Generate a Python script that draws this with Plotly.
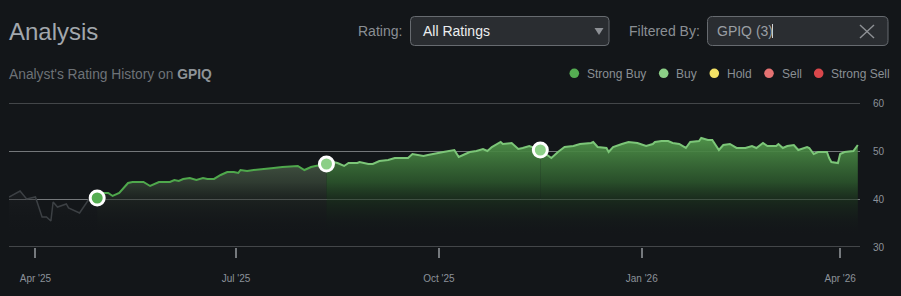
import plotly.graph_objects as go

# ---------------- data ----------------
price_dates = [
    "2025-03-20", "2025-03-25", "2025-03-28", "2025-04-01", "2025-04-04", "2025-04-06", "2025-04-08",
    "2025-04-09", "2025-04-11", "2025-04-15", "2025-04-16", "2025-04-21", "2025-04-25", "2025-04-29",
    "2025-04-30", "2025-05-04", "2025-05-06", "2025-05-09", "2025-05-13", "2025-05-15", "2025-05-20",
    "2025-05-23", "2025-05-27", "2025-05-29", "2025-06-01", "2025-06-03", "2025-06-05", "2025-06-07",
    "2025-06-10", "2025-06-13", "2025-06-16", "2025-06-18", "2025-06-21", "2025-06-24", "2025-06-27",
    "2025-06-30", "2025-07-02", "2025-07-03", "2025-07-06", "2025-07-09", "2025-07-15", "2025-07-18",
    "2025-07-22", "2025-07-26", "2025-07-29", "2025-08-01", "2025-08-04", "2025-08-06", "2025-08-08",
    "2025-08-11",
    "2025-08-14", "2025-08-16", "2025-08-19", "2025-08-21", "2025-08-25", "2025-08-26", "2025-08-30",
    "2025-09-01", "2025-09-04", "2025-09-08", "2025-09-11", "2025-09-15", "2025-09-17", "2025-09-19",
    "2025-09-22", "2025-09-24", "2025-09-26", "2025-09-29", "2025-10-03", "2025-10-08", "2025-10-10",
    "2025-10-13", "2025-10-15", "2025-10-18", "2025-10-21", "2025-10-23", "2025-10-25", "2025-10-29",
    "2025-10-30", "2025-11-03", "2025-11-06", "2025-11-08", "2025-11-11", "2025-11-16",
    "2025-11-21", "2025-11-24", "2025-11-27", "2025-12-01", "2025-12-04", "2025-12-09", "2025-12-10",
    "2025-12-12", "2025-12-16", "2025-12-17", "2025-12-19", "2025-12-23", "2025-12-26", "2025-12-30",
    "2026-01-03", "2026-01-06", "2026-01-07", "2026-01-10", "2026-01-13", "2026-01-15", "2026-01-18",
    "2026-01-21", "2026-01-23", "2026-01-27", "2026-01-28", "2026-01-31", "2026-02-02", "2026-02-05",
    "2026-02-07", "2026-02-10", "2026-02-13", "2026-02-17", "2026-02-20", "2026-02-22", "2026-02-25",
    "2026-02-27", "2026-03-03", "2026-03-04", "2026-03-06", "2026-03-08", "2026-03-11", "2026-03-13",
    "2026-03-17", "2026-03-18", "2026-03-20", "2026-03-22", "2026-03-24", "2026-03-26", "2026-03-27",
    "2026-03-28", "2026-03-31", "2026-04-01", "2026-04-03", "2026-04-07", "2026-04-09",
]
price_values = [
    40.42, 41.67, 40.0, 40.42, 36.25, 36.25, 35.42, 39.38, 38.33, 38.96, 38.13, 37.08, 39.79, 40.21,
    41.25, 41.25, 40.63, 41.25, 43.33, 43.54, 43.54, 42.71, 43.54, 43.54,
    43.54, 43.96, 43.75, 44.17, 44.38, 43.96, 44.38, 44.17, 44.17, 45.0, 45.63, 45.63,
    45.42, 46.04, 45.83, 46.04, 46.25, 46.46, 46.67, 46.88, 46.88,
    46.04, 46.67, 46.88, 47.08, 47.29,
    47.71, 47.5, 46.88, 47.5, 47.5, 47.71, 47.29,
    47.29, 47.92, 48.13, 48.54, 48.54, 48.54, 49.38, 49.17, 48.96, 49.17, 49.38,
    49.79, 50.21, 48.75, 49.38, 49.79, 50.0, 50.42, 50.0, 50.83, 51.88, 51.46,
    51.67, 50.42, 50.63, 51.04, 50.21,
    48.54, 49.79, 50.83,
    51.04, 51.46, 51.67, 51.88, 50.83, 50.63, 49.79, 50.83, 51.46, 51.88, 51.67,
    51.04, 51.46, 51.88, 52.08, 52.08, 51.67, 51.46, 50.63, 51.88, 52.08, 52.71, 52.29,
    52.29, 50.21, 51.25, 51.46, 50.63, 50.63, 51.04, 50.63, 51.67, 51.04,
    51.04, 51.46, 50.63, 51.04, 51.25, 50.21, 50.83, 50.63, 49.38, 49.79, 49.79, 49.79, 48.54, 47.71, 47.5,
    49.38, 49.79, 50.0, 51.25,
]

rating_dates = ["2025-04-29", "2025-08-11", "2025-11-16"]
rating_types = ["Strong Buy", "Buy", "Buy"]

legend_labels = ["Strong Buy", "Buy", "Hold", "Sell", "Strong Sell"]
legend_colors = ["#55ad52", "#8ccf87", "#f2e166", "#e57272", "#d9474b"]

x_tick_dates = ["2025-04-01", "2025-07-01", "2025-10-01", "2026-01-01", "2026-04-01"]
x_tick_labels = ["Apr '25", "Jul '25", "Oct '25", "Jan '26", "Apr '26"]
y_ticks = [30, 40, 50, 60]

# ---------------- layout geometry ----------------
W, H = 901, 296
ML, MR, MT, MB = 9, 41, 103, 49
PW, PH = W - ML - MR, H - MT - MB
BG = "#131619"
GRID = "#74777a"
FONT = "Arial, Liberation Sans, sans-serif"


def px(x):
    return (x - ML) / PW


def py(y):
    return (H - MB - y) / PH


def rounded_rect(x0, y0, x1, y1, r):
    X0, X1, Y0, Y1 = px(x0), px(x1), py(y0), py(y1)
    rx, ry = r / PW, r / PH
    return (f"M {X0+rx},{Y0} L {X1-rx},{Y0} Q {X1},{Y0} {X1},{Y0-ry} "
            f"L {X1},{Y1+ry} Q {X1},{Y1} {X1-rx},{Y1} L {X0+rx},{Y1} "
            f"Q {X0},{Y1} {X0},{Y1+ry} L {X0},{Y0-ry} Q {X0},{Y0} {X0+rx},{Y0} Z")


fig = go.Figure()

color_of = dict(zip(legend_labels, legend_colors))
idx = [price_dates.index(d) for d in rating_dates]
bounds = [0] + idx + [len(price_dates) - 1]

seg_styles = [
    dict(line="#3c4044", width=1.5, top="rgba(52,56,60,0.6)", mid="rgba(38,41,44,0.5)", low="rgba(28,31,34,0.4)"),
    dict(line="#4fa84c", width=2, top="rgba(96,120,92,0.9)", mid="rgba(60,76,60,0.7)", low="rgba(34,42,36,0.5)"),
    dict(line="#7cc678", width=2, top="rgba(80,148,74,0.97)", mid="rgba(46,92,46,0.8)", low="rgba(28,52,30,0.6)"),
    dict(line="#7cc678", width=2, top="rgba(80,148,74,0.97)", mid="rgba(46,92,46,0.8)", low="rgba(28,52,30,0.6)"),
]

for k in range(len(bounds) - 1):
    a, b = bounds[k], bounds[k + 1]
    st = seg_styles[k]
    fig.add_trace(go.Scatter(
        x=price_dates[a:b + 1], y=price_values[a:b + 1], mode="lines",
        line=dict(color=st["line"], width=st["width"]),
        fill="tozeroy",
        fillgradient=dict(type="vertical", start=30, stop=52.5,
                          colorscale=[[0, "rgba(19,22,25,0)"], [0.1, "rgba(19,22,25,0)"],
                                      [0.42, st["low"]], [0.6, st["mid"]], [1, st["top"]]]),
        hoverinfo="skip", showlegend=False,
    ))

fig.add_trace(go.Scatter(
    x=rating_dates, y=[price_values[i] for i in idx], mode="markers",
    marker=dict(size=14, color=[color_of[t] for t in rating_types],
                line=dict(color="white", width=3)),
    text=rating_types, hoverinfo="text", showlegend=False,
))

shapes = []
annotations = []

# edge grid lines at 30 and 60 (plotly omits grid lines on range edges)
for yv in (y_ticks[0], y_ticks[-1]):
    shapes.append(dict(type="line", xref="paper", yref="y", x0=0, x1=1, y0=yv, y1=yv,
                       line=dict(color=GRID, width=1.2), layer="below"))


def text(s, x, y, size, color, anchor="left"):
    annotations.append(dict(text=s, x=px(x), y=py(y), xref="paper", yref="paper",
                            xanchor=anchor, yanchor="middle", showarrow=False,
                            font=dict(family=FONT, size=size, color=color), borderpad=0))


text("Analysis", 8, 31, 24, "#a2a7ac")
text("Analyst's Rating History on <b style='color:#8e9398'>GPIQ</b>", 8, 74, 13.8, "#6d7277")
text("Rating:", 357, 31, 14, "#8a8f94")
text("Filtered By:", 628, 31, 14, "#8a8f94")

shapes.append(dict(type="path", path=rounded_rect(410.5, 16.5, 609, 45.5, 4), xref="paper", yref="paper",
                   line=dict(color="#676b70", width=1), fillcolor="#2a2d31", layer="above"))
text("All Ratings", 422, 31, 14, "#eceeef")
shapes.append(dict(type="path",
                   path=f"M {px(594.5)},{py(28)} L {px(603.5)},{py(28)} L {px(599)},{py(35)} Z",
                   xref="paper", yref="paper", line=dict(width=0), fillcolor="#8d9095", layer="above"))

shapes.append(dict(type="path", path=rounded_rect(707.5, 16.5, 888, 45.5, 5), xref="paper", yref="paper",
                   line=dict(color="#676b70", width=1), fillcolor="#2a2d31", layer="above"))
text("GPIQ (3)", 716, 31, 14, "#9a9fa4")
shapes.append(dict(type="line", x0=px(772.5), x1=px(772.5), y0=py(24), y1=py(38), xref="paper", yref="paper",
                   line=dict(color="#d0d2d4", width=1), layer="above"))
for (xa, ya, xb, yb) in [(860, 25, 874, 38), (860, 38, 874, 25)]:
    shapes.append(dict(type="line", x0=px(xa), y0=py(ya), x1=px(xb), y1=py(yb), xref="paper", yref="paper",
                       line=dict(color="#8e9195", width=1.4), layer="above"))

legend_x = [574.3, 663.7, 714.3, 769, 818.7]
for cx, lab, col in zip(legend_x, legend_labels, legend_colors):
    r = 4.8
    shapes.append(dict(type="circle", x0=px(cx - r), x1=px(cx + r), y0=py(73.3 - r), y1=py(73.3 + r),
                       xref="paper", yref="paper", line=dict(width=0), fillcolor=col, layer="above"))
    text(lab, cx + 11.5, 73.5, 12, "#8a8f94")

fig.update_layout(
    width=W, height=H, margin=dict(l=ML, r=MR, t=MT, b=MB),
    paper_bgcolor=BG, plot_bgcolor=BG,
    font=dict(family=FONT, color="#8c929a"),
    shapes=shapes, annotations=annotations,
    xaxis=dict(type="date", range=["2025-03-20", "2026-04-10"], showgrid=False, zeroline=False,
               showline=False, tickvals=x_tick_dates, ticktext=x_tick_labels,
               ticks="outside", ticklen=10, tickwidth=1.5, tickcolor="#75797d",
               tickfont=dict(size=10, color="#8c929a"), ticklabelstandoff=12, fixedrange=True),
    yaxis=dict(range=[30, 60], side="right", tickvals=y_ticks, showgrid=True, gridcolor=GRID,
               gridwidth=1, zeroline=False, showline=False, ticks="",
               tickfont=dict(size=10, color="#8c929a"), ticklabelstandoff=12, fixedrange=True),
    hovermode="closest",
)

fig.write_html("out.html", config={"displayModeBar": False})
